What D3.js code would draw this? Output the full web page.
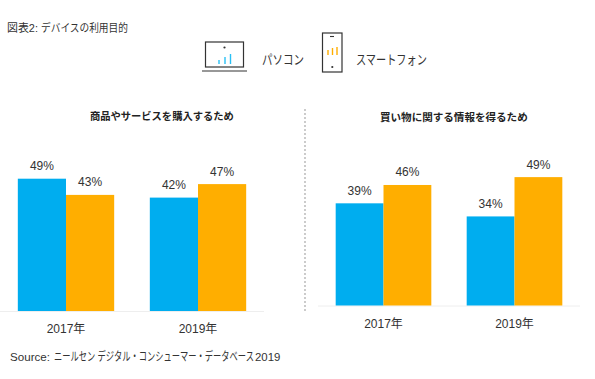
<!DOCTYPE html>
<html>
<head>
<meta charset="utf-8">
<script src="https://cdn.jsdelivr.net/npm/d3@7"></script>
<style>
  html, body { margin: 0; padding: 0; background: #fff; }
  svg { display: block; }
  text { font-family: "Liberation Sans", "Noto Sans CJK JP", sans-serif; fill: #333; }
</style>
</head>
<body>
<div id="chart"></div>
<script>
const years = ["2017年", "2019年"]
const devices = ["パソコン", "スマートフォン"]
const panelTitles = ["商品やサービスを購入するため", "買い物に関する情報を得るため"]
const purchasePc = [49, 42]
const purchasePhone = [43, 47]
const infoPc = [39, 34]
const infoPhone = [46, 49]

const BLUE = "#00adef"
const ORANGE = "#ffae00"

const svg = d3.select("#chart").append("svg")
    .attr("width", 595)
    .attr("height", 379)

// squeeze a text sideways to the width it has in the picture
function fitWidth(t, x, y, len) {
    const natural = t.node().getComputedTextLength()
    t.attr("transform", `translate(${x}, ${y}) scale(${len / natural}, 1)`)
    return t
}

// kana run tight, latin at natural width, so each run is placed by itself
function addRun(x, y, size, str, len) {
    const t = svg.append("text")
        .style("font-size", size + "px")
        .text(str)
    if (len) return fitWidth(t, x, y, len)
    return t.attr("x", x).attr("y", y)
}

addRun(7, 32, 11, "図表2:", 31)
addRun(41, 32, 11, "デバイスの利用目的", 87)

addRun(10, 361, 11.6, "Source:")
addRun(54, 361, 12, "ニールセン デジタル・コンシューマー・データベース", 200)
addRun(255, 361, 11.4, "2019")

// legend, icons are just line drawings
function drawLaptop(g) {
    g.append("rect").attr("x", 205.5).attr("y", 42).attr("width", 38).attr("height", 25)
        .attr("fill", "none").attr("stroke", "#333").attr("stroke-width", 1.2)
    g.append("line").attr("x1", 202).attr("x2", 247).attr("y1", 71).attr("y2", 71)
        .attr("stroke", "#333").attr("stroke-width", 1.2)
    g.append("circle").attr("cx", 224.5).attr("cy", 47.5).attr("r", 1.1).attr("fill", "#333")
    g.selectAll("line.sig").data([[219, 64, 60], [225, 64, 57], [230.5, 64, 54]]).enter()
        .append("line")
        .attr("x1", d => d[0]).attr("x2", d => d[0])
        .attr("y1", d => d[1]).attr("y2", d => d[2])
        .attr("stroke", "#29c0f5").attr("stroke-width", 1.4)
}

function drawPhone(g) {
    g.append("rect").attr("x", 322.5).attr("y", 33).attr("width", 19.5).attr("height", 39)
        .attr("fill", "none").attr("stroke", "#333").attr("stroke-width", 1.2)
    g.append("line").attr("x1", 330).attr("x2", 334).attr("y1", 36.5).attr("y2", 36.5)
        .attr("stroke", "#333").attr("stroke-width", 1.1)
    g.append("circle").attr("cx", 332.3).attr("cy", 67).attr("r", 1.1).attr("fill", "#333")
    g.selectAll("line.sig").data([[328, 55, 50], [332.5, 55, 48], [337, 55, 47]]).enter()
        .append("line")
        .attr("x1", d => d[0]).attr("x2", d => d[0])
        .attr("y1", d => d[1]).attr("y2", d => d[2])
        .attr("stroke", ORANGE).attr("stroke-width", 1.4)
}

const legend = svg.append("g")
drawLaptop(legend)
drawPhone(legend)
addRun(262, 63.5, 13, devices[0], 42)
addRun(356, 63.5, 13, devices[1], 71)

// one panel of paired bars
function drawPanel(opts) {
    const { title, titleLen, pc, phone, x0Range, baseline, pxPerUnit, titleX, titleY, yearY } = opts
    const g = svg.append("g")

    const x = d3.scaleBand()
        .domain(years)
        .range(x0Range)
        .paddingInner(0.27)
        .paddingOuter(0.135)

    const xInner = d3.scaleBand()
        .domain(devices)
        .range([0, x.bandwidth()])

    const y = d3.scaleLinear()
        .domain([0, 50])
        .range([baseline, baseline - 50 * pxPerUnit])

    const rows = years.map((year, i) => ({ year, values: [
        { device: devices[0], value: pc[i], color: BLUE },
        { device: devices[1], value: phone[i], color: ORANGE }
    ] }))

    const titleText = g.append("text")
        .style("font-size", "10.5px")
        .style("font-weight", "bold")
        .style("fill", "#222")
        .text(title)
    fitWidth(titleText, titleX, titleY, titleLen)

    g.append("line")
        .attr("x1", x0Range[0]).attr("x2", x0Range[1])
        .attr("y1", baseline + 0.5).attr("y2", baseline + 0.5)
        .attr("stroke", "#eeeeee")

    const groups = g.selectAll("g.year")
        .data(rows)
        .enter()
        .append("g")
        .attr("transform", d => `translate(${x(d.year)}, 0)`)

    groups.selectAll("rect")
        .data(d => d.values)
        .enter()
        .append("rect")
        .attr("x", d => xInner(d.device))
        .attr("y", d => y(d.value))
        .attr("width", xInner.bandwidth())
        .attr("height", d => baseline - y(d.value))
        .attr("fill", d => d.color)

    groups.selectAll("text")
        .data(d => d.values)
        .enter()
        .append("text")
        .attr("x", d => xInner(d.device) + xInner.bandwidth() / 2)
        .attr("y", d => y(d.value) - 8.5)
        .attr("text-anchor", "middle")
        .style("font-size", "12px")
        .text(d => d.value + "%")

    g.selectAll("text.year")
        .data(years)
        .enter()
        .append("text")
        .attr("x", d => x(d) + x.bandwidth() / 2)
        .attr("y", yearY)
        .attr("text-anchor", "middle")
        .style("font-size", "12px")
        .text(d => d)
}

drawPanel({ title: panelTitles[0], titleLen: 144, pc: purchasePc, phone: purchasePhone,
    x0Range: [0, 264], baseline: 311, pxPerUnit: 2.7, titleX: 90, titleY: 119.5, yearY: 333 })
drawPanel({ title: panelTitles[1], titleLen: 148, pc: infoPc, phone: infoPhone,
    x0Range: [318, 580], baseline: 305.5, pxPerUnit: 2.62, titleX: 380, titleY: 121, yearY: 328 })

// divider between the two panels
svg.append("line")
    .attr("x1", 305).attr("x2", 305)
    .attr("y1", 109).attr("y2", 313)
    .attr("stroke", "#aaa")
    .attr("stroke-width", 1.2)
    .attr("stroke-dasharray", "2 2")
</script>
</body>
</html>
